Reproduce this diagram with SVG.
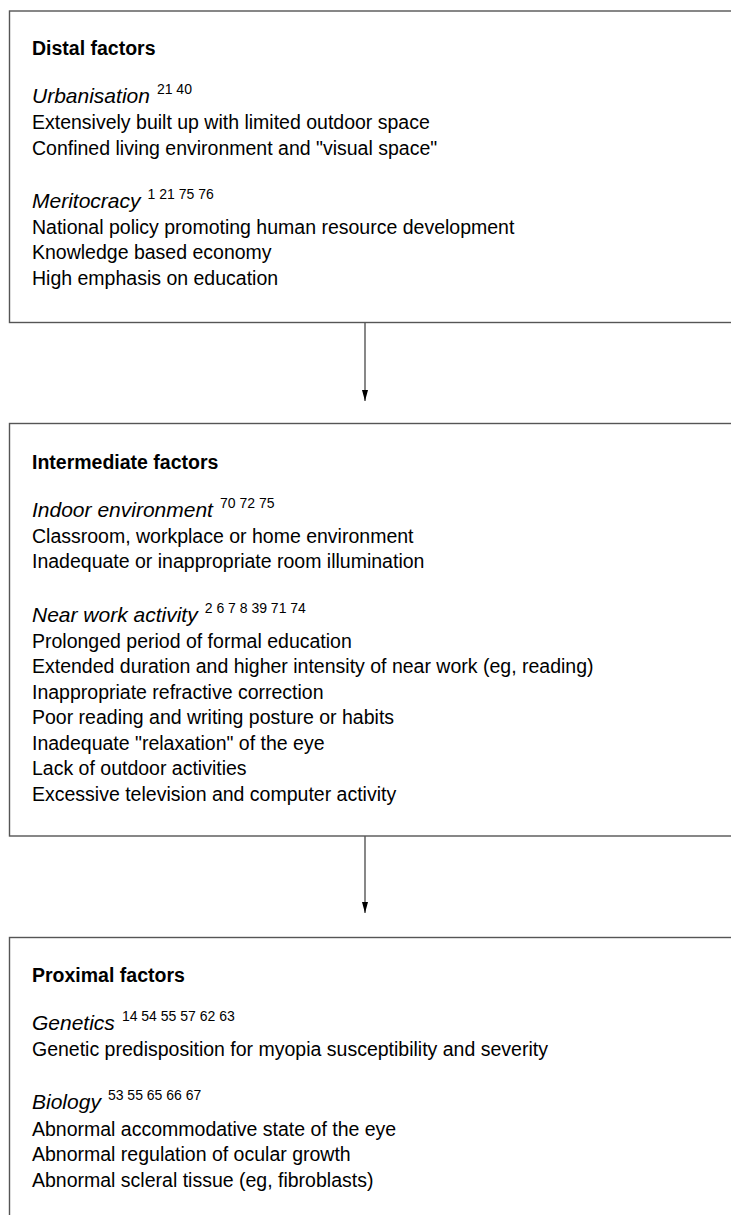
<svg xmlns="http://www.w3.org/2000/svg" width="731" height="1215" viewBox="0 0 731 1215">
<style>
text{font-family:"Liberation Sans",Arial,sans-serif;fill:#000}
.h{font-weight:bold;font-size:19.5px}
.c{font-style:italic;font-size:21px}
.b{font-size:19.5px}
.s{font-style:normal;font-size:14px}
.box{fill:#fff;stroke:#555;stroke-width:1.4}
.con{stroke:#555;stroke-width:1.4;fill:none}
</style>
<defs>
<marker id="ah" viewBox="0 0 11 6" refX="11" refY="3" markerWidth="11" markerHeight="6" markerUnits="userSpaceOnUse" orient="auto">
<path d="M0,0 L11,3 L0,6 Z" fill="#000"/>
</marker>
</defs>
<rect width="731" height="1215" fill="#fff"/>
<g id="distal">
<rect class="box" x="9.5" y="11" width="740" height="311.5"/>
<text class="h" x="32" y="55">Distal factors</text>
<text class="c" x="32" y="103">Urbanisation<tspan class="s" dx="7" dy="-9">21 40</tspan></text>
<text class="b" x="32" y="129">Extensively built up with limited outdoor space</text>
<text class="b" x="32" y="154.5">Confined living environment and "visual space"</text>
<text class="c" x="32" y="208">Meritocracy<tspan class="s" dx="7" dy="-9">1 21 75 76</tspan></text>
<text class="b" x="32" y="233.5">National policy promoting human resource development</text>
<text class="b" x="32" y="259">Knowledge based economy</text>
<text class="b" x="32" y="284.5">High emphasis on education</text>
</g>
<g id="intermediate">
<rect class="box" x="9.5" y="423.5" width="740" height="412.5"/>
<text class="h" x="32" y="468.5">Intermediate factors</text>
<text class="c" x="32" y="517">Indoor environment<tspan class="s" dx="7" dy="-9">70 72 75</tspan></text>
<text class="b" x="32" y="542.5">Classroom, workplace or home environment</text>
<text class="b" x="32" y="568">Inadequate or inappropriate room illumination</text>
<text class="c" x="32" y="622">Near work activity<tspan class="s" dx="7" dy="-9">2 6 7 8 39 71 74</tspan></text>
<text class="b" x="32" y="647.5">Prolonged period of formal education</text>
<text class="b" x="32" y="673">Extended duration and higher intensity of near work (eg, reading)</text>
<text class="b" x="32" y="698.5">Inappropriate refractive correction</text>
<text class="b" x="32" y="724">Poor reading and writing posture or habits</text>
<text class="b" x="32" y="749.5">Inadequate "relaxation" of the eye</text>
<text class="b" x="32" y="775">Lack of outdoor activities</text>
<text class="b" x="32" y="800.5">Excessive television and computer activity</text>
</g>
<g id="proximal">
<rect class="box" x="9.5" y="937.5" width="740" height="300"/>
<text class="h" x="32" y="982">Proximal factors</text>
<text class="c" x="32" y="1030">Genetics<tspan class="s" dx="7" dy="-9">14 54 55 57 62 63</tspan></text>
<text class="b" x="32" y="1056">Genetic predisposition for myopia susceptibility and severity</text>
<text class="c" x="32" y="1109">Biology<tspan class="s" dx="7" dy="-9">53 55 65 66 67</tspan></text>
<text class="b" x="32" y="1135.5">Abnormal accommodative state of the eye</text>
<text class="b" x="32" y="1161">Abnormal regulation of ocular growth</text>
<text class="b" x="32" y="1186.5">Abnormal scleral tissue (eg, fibroblasts)</text>
</g>
<g id="connectors">
<line class="con" x1="365" y1="322.5" x2="365" y2="401" marker-end="url(#ah)"/>
<line class="con" x1="365" y1="836" x2="365" y2="913" marker-end="url(#ah)"/>
</g>
</svg>
